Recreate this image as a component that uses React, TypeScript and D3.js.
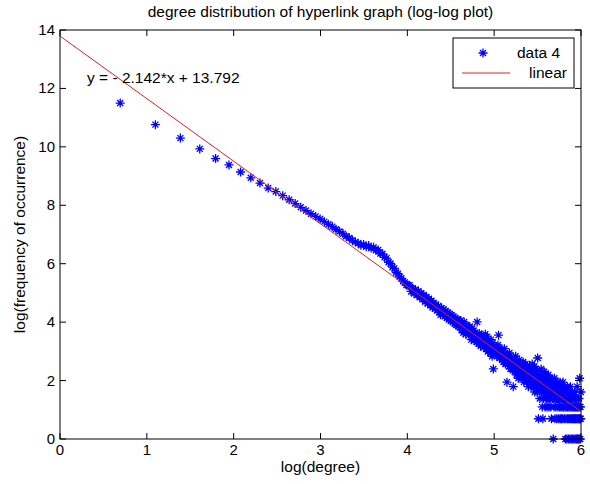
import React from "react";
import * as d3 from "d3";

// ---- data (natural logs) ----
// degrees 2..100 : log(frequency)
const headDegrees: number[] = d3.range(2, 101);
const headLogFreq: number[] = [
  11.5, 10.76, 10.3, 9.93, 9.6, 9.38, 9.14, 8.94, 8.76, 8.59,
  8.47, 8.33, 8.19, 8.06, 7.93, 7.82, 7.71, 7.62, 7.53, 7.44,
  7.35, 7.27, 7.18, 7.1, 7.03, 6.94, 6.88, 6.8, 6.74, 6.7,
  6.63, 6.66, 6.58, 6.62, 6.54, 6.56, 6.46, 6.47, 6.35, 6.34,
  6.22, 6.19, 6.05, 6.01, 5.88, 5.84, 5.7, 5.66, 5.55, 5.5,
  5.4, 5.36, 5.27, 5.26, 5.26, 5.05, 5.16, 4.98, 5.12, 4.93,
  5.06, 4.85, 4.99, 4.78, 4.93, 4.7, 4.86, 4.64, 4.8, 4.58,
  4.73, 4.5, 4.66, 4.46, 4.6, 4.4, 4.55, 4.34, 4.25, 4.48,
  4.26, 4.43, 4.2, 4.38, 4.15, 4.33, 4.09, 4.28, 4.05, 4.24,
  4.0, 4.19, 3.95, 4.14, 3.9, 4.1, 3.86, 4.05, 3.82,
];
// degrees 101..403 : raw frequency counts
const tailDegrees: number[] = d3.range(101, 404);
const tailCounts: number[] = [
  58, 42, 51, 38, 55, 44, 36, 49, 40, 46,
  35, 47, 39, 30, 44, 36, 41, 29, 38, 33,
  28, 55, 34, 26, 37, 30, 24, 35, 29, 27,
  31, 23, 29, 36, 22, 27, 33, 20, 28, 24,
  26, 19, 30, 22, 17, 27, 11, 24, 21, 19,
  19, 23, 17, 21, 25, 35, 18, 16, 22, 20,
  17, 21, 15, 19, 14, 18, 22, 16, 13, 17,
  15, 7, 18, 13, 16, 12, 19, 14, 11, 15,
  13, 16, 11, 14, 6, 12, 15, 10, 13, 17,
  12, 9, 14, 11, 13, 8, 12, 15, 10, 11,
  10, 13, 9, 12, 8, 11, 14, 10, 7, 12,
  9, 11, 13, 8, 10, 7, 12, 9, 11, 6,
  8, 10, 12, 7, 9, 11, 6, 10, 8, 13,
  9, 7, 10, 6, 8, 12, 5, 9, 7, 11,
  6, 8, 10, 5, 16, 7, 2, 9, 6, 8,
  4, 7, 9, 6, 11, 5, 8, 3, 7, 2,
  6, 4, 8, 10, 5, 7, 3, 6, 9, 4,
  5, 7, 3, 8, 6, 4, 9, 5, 3, 7,
  6, 4, 8, 5, 3, 7, 2, 5, 6, 4,
  5, 7, 1, 4, 6, 3, 8, 5, 2, 4,
  5, 3, 6, 4, 2, 7, 4, 5, 3, 6,
  4, 2, 5, 6, 3, 4, 7, 2, 5, 3,
  4, 6, 2, 3, 5, 4, 2, 7, 3, 4,
  3, 5, 2, 4, 6, 3, 1, 4, 2, 5,
  3, 4, 1, 6, 2, 3, 5, 2, 4, 1,
  3, 5, 2, 4, 1, 3, 6, 2, 4, 3,
  1, 4, 2, 3, 5, 2, 1, 4, 3, 2,
  4, 1, 3, 2, 5, 3, 1, 2, 4, 3,
  2, 4, 1, 3, 2, 6, 1, 3, 2, 4,
  1, 3, 2, 4, 1, 2, 8, 3, 2, 1,
  3, 2, 5,
];
const fitSlope = -2.142;
const fitIntercept = 13.792;
const xTicks = [0, 1, 2, 3, 4, 5, 6];
const yTicks = [0, 2, 4, 6, 8, 10, 12, 14];
const titleText = "degree distribution of hyperlink graph (log-log plot)";
const xLabel = "log(degree)";
const yLabel = "log(frequency of occurrence)";
const fitLabel = "y = - 2.142*x + 13.792";
const legendSeries = ["data 4", "linear"];

const W = 590, H = 484;
const L = 60, R = 581, T = 30, B = 439;
const FONT = "'Liberation Sans', Arial, sans-serif";
const FS = 15.5;
const TFS = 15;

const starPath = "M-4.5,0H4.5M0,-4.5V4.5M-3,-3L3,3M-3,3L3,-3";

export default function App() {
  const x = d3.scaleLinear().domain([0, 6]).range([L, R]);
  const y = d3.scaleLinear().domain([0, 14]).range([B, T]);

  const pts: [number, number][] = [];
  headDegrees.forEach((d, i) => pts.push([Math.log(d), headLogFreq[i]]));
  tailDegrees.forEach((d, i) => {
    if (tailCounts[i] > 0) pts.push([Math.log(d), Math.log(tailCounts[i])]);
  });

  const fitLine = d3.line<number>()
    .x((v) => x(v))
    .y((v) => y(fitSlope * v + fitIntercept));

  return (
    <svg width={W} height={H} style={{ position: "absolute", left: 0, top: 0, background: "#fff" }}
      fontFamily={FONT}>
      <rect x={0} y={0} width={W} height={H} fill="#fff" />
      <text x={(L + R) / 2} y={17} textAnchor="middle" fontSize={FS} fill="#000">{titleText}</text>
      <rect x={L} y={T} width={R - L} height={B - T} fill="#fff" />
      {/* points */}
      <g stroke="#0000ff" strokeWidth={1.3} fill="none">
        {pts.map(([px, py], i) => (
          <path key={i} d={starPath} transform={`translate(${x(px)},${y(py)})`} />
        ))}
      </g>
      {/* fit line */}
      <path d={fitLine([0, 6]) || ""} stroke="#dd2222" strokeWidth={1} fill="none" />
      {/* annotation */}
      <text x={87} y={83} fontSize={FS} fill="#000">{fitLabel}</text>
      {/* axes box */}
      <rect x={L} y={T} width={R - L} height={B - T} fill="none" stroke="#000" strokeWidth={1} />
      {xTicks.map((t) => (
        <g key={"x" + t}>
          <line x1={x(t)} x2={x(t)} y1={B} y2={B - 6} stroke="#000" />
          <line x1={x(t)} x2={x(t)} y1={T} y2={T + 6} stroke="#000" />
          <text x={x(t)} y={B + 16} textAnchor="middle" fontSize={TFS}>{t}</text>
        </g>
      ))}
      {yTicks.map((t) => (
        <g key={"y" + t}>
          <line x1={L} x2={L + 6} y1={y(t)} y2={y(t)} stroke="#000" />
          <line x1={R} x2={R - 6} y1={y(t)} y2={y(t)} stroke="#000" />
          <text x={L - 5} y={y(t) + 5} textAnchor="end" fontSize={TFS}>{t}</text>
        </g>
      ))}
      <text x={(L + R) / 2} y={472} textAnchor="middle" fontSize={FS}>{xLabel}</text>
      <text transform={`translate(25,${(T + B) / 2}) rotate(-90)`} textAnchor="middle" fontSize={FS}>{yLabel}</text>
      {/* legend */}
      <g>
        <rect x={453} y={38} width={121} height={50} fill="#fff" stroke="#000" />
        <path d={starPath} transform="translate(483,53)" stroke="#0000ff" strokeWidth={1.3} fill="none" />
        <text x={517} y={58} fontSize={FS}>{legendSeries[0]}</text>
        <line x1={462} x2={510} y1={73} y2={73} stroke="#dd2222" />
        <text x={567} y={78} textAnchor="end" fontSize={FS}>{legendSeries[1]}</text>
      </g>
    </svg>
  );
}
